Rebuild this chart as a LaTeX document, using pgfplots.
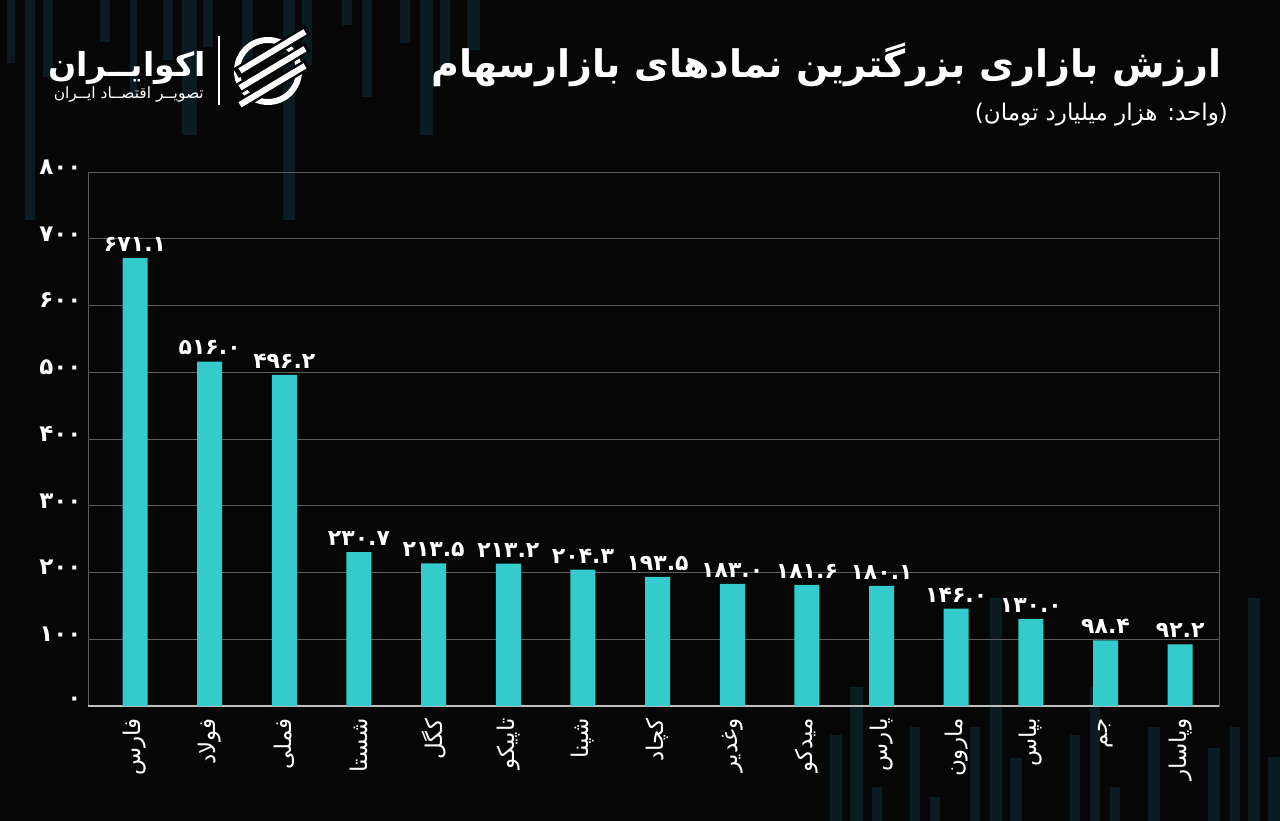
\documentclass[border=0pt]{standalone}
\usepackage{pgfplots}
\pgfplotsset{compat=1.18}
\usepackage{pgfplotstable}
\usetikzlibrary{calc}
\usepackage{fontspec}
\TeXXeTstate=1
\newfontfamily\arabicfont[Script=Arabic]{DejaVu Sans}

\definecolor{bg}{RGB}{6,6,6}
\definecolor{barc}{RGB}{52,203,204}
\definecolor{gridc}{RGB}{92,92,92}
\definecolor{deco}{RGB}{11,27,34}

% Latin digits -> Persian digits
\newcommand\fanum[1]{\faloop#1\relax}
\def\faloop#1{\ifx\relax#1\else\fadig#1\expandafter\faloop\fi}
\def\fadig#1{\if0#1۰\else\if1#1۱\else\if2#1۲\else\if3#1۳\else\if4#1۴\else
  \if5#1۵\else\if6#1۶\else\if7#1۷\else\if8#1۸\else\if9#1۹\else#1\fi\fi\fi\fi\fi\fi\fi\fi\fi\fi}
\newcommand\rtl[1]{\beginR#1\endR}

\pgfplotstableread{
x y
0  671.1
1  516.0
2  496.2
3  230.7
4  213.5
5  213.2
6  204.3
7  193.5
8  183.0
9  181.6
10 180.1
11 146.0
12 130.0
13 98.4
14 92.2
}\capdata

\begin{document}
\begin{tikzpicture}[x=1pt,y=-1pt]
\fill[bg] (0,0) rectangle (1280,821);
% faint background stripes
\foreach \a/\b/\c in {7/15/63,25/35/220,43/53/77,100/110/42,130/137/97,163/173/60,182/197/135,
  203/213/47,242/253/70,283/295/220,302/312/65,342/352/25,362/372/97,400/410/43,420/433/135,
  440/450/70,467/480/50}
  {\fill[deco] (\a,0) rectangle (\b,\c);}
\foreach \a/\b/\c in {830/842/735,850/863/687,872/882/787,910/920/727,930/940/797,970/980/727,
  990/1002/598,1010/1022/758,1070/1080/735,1090/1100/687,1110/1120/787,1148/1160/727,
  1208/1220/748,1230/1240/727,1248/1260/598,1268/1280/757}
  {\fill[deco] (\a,821) rectangle (\b,\c);}

% logo
\begin{scope}
  \draw[white, line width=6pt] (268,71) circle (31);
  \foreach \o in {-17,0,17}{
    \draw[bg, line width=11pt] ($(268,71)+(-32,0.6*32+\o)$) -- ($(268,71)+(40,-0.6*40+\o)$);
  }
  \foreach \o in {-17,0,17}{
    \draw[white, line width=6pt] ($(268,71)+(-28,0.6*28+\o)$) -- ($(268,71)+(37,-0.6*37+\o)$);
  }
\end{scope}
\draw[white, line width=1.5pt] (219,36) -- (219,105);
\node[anchor=base east, inner sep=0, text=white, font=\arabicfont\bfseries\fontsize{33}{33}\selectfont]
  at (206,77) {\rtl{اکوایــران}};
\node[anchor=base east, inner sep=0, text=white, font=\arabicfont\fontsize{15.5}{16}\selectfont]
  at (204,99) {\rtl{تصویــر اقتصــاد ایــران}};

% titles
\node[anchor=base east, inner sep=0, text=white, font=\arabicfont\bfseries\fontsize{38}{38}\selectfont]
  at (1222,78) {\rtl{ارزش بازاری بزرگترین نمادهای بازارسهام}};
\node[anchor=base east, inner sep=0, text=white, font=\arabicfont\fontsize{23}{23}\selectfont]
  at (1228,121) {\rtl{(واحد: هزار میلیارد تومان)}};

\begin{axis}[
  at={(88pt,-706pt)}, anchor=south west,
  scale only axis, width=1131pt, height=534pt,
  xmin=-0.63, xmax=14.52, ymin=0, ymax=800,
  axis line style={draw=gridc, line width=1pt},
  ymajorgrids, grid style={draw=gridc, line width=1pt},
  major tick length=0pt,
  ytick={0,100,...,800},
  yticklabels={۰,۱۰۰,۲۰۰,۳۰۰,۴۰۰,۵۰۰,۶۰۰,۷۰۰,۸۰۰},
  yticklabel style={font=\arabicfont\bfseries\fontsize{23}{23}\selectfont, text=white, yshift=5pt, xshift=-3pt},
  extra y ticks={0}, extra y tick labels={},
  extra y tick style={grid style={draw=white!75!black, line width=2pt}},
  xtick=data,
  xticklabels={فارس,فولاد,فملی,شستا,کگل,تاپیکو,شپنا,کچاد,وغدیر,میدکو,پارس,مارون,بپاس,جم,وپاسار},
  xticklabel style={font=\arabicfont\fontsize{23}{23}\selectfont, text=white, rotate=90, anchor=east, xshift=-9pt},
  ybar, bar width=25pt,
  point meta=explicit symbolic,
  nodes near coords={\edef\mymeta{\pgfplotspointmeta}\expandafter\fanum\expandafter{\mymeta}},
  nodes near coords style={font=\arabicfont\bfseries\fontsize{22}{22}\selectfont, text=white, anchor=south, yshift=3pt},
]
\addplot[fill=barc, draw=none] table[x=x, y=y, meta=y] {\capdata};
\end{axis}
\end{tikzpicture}
\end{document}
